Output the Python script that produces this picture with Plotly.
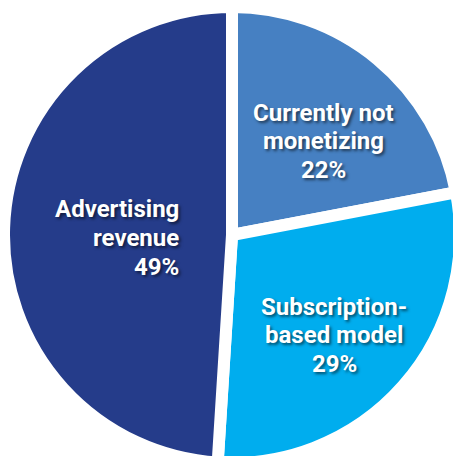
import plotly.graph_objects as go

# Share of respondents by monetization approach (percent)
categories = ["Currently not monetizing", "Subscription-based model", "Advertising revenue"]
label_lines = [["Currently not", "monetizing"], ["Subscription-", "based model"], ["Advertising", "revenue"]]
shares = [22, 29, 49]
slice_colors = ["#4680c2", "#00adee", "#253c8a"]

# Figure geometry (pixels): plot area is a 456px square whose centre sits at (232, 235)
W, H = 460, 463
ML, MT = 4, 7
PW, PH = W - ML, H - MT

def px_to_paper(x, y):
    return (x - ML) / PW, 1 - (y - MT) / PH

fig = go.Figure(go.Pie(
    labels=categories,
    values=shares,
    sort=False,
    direction="clockwise",
    rotation=0,
    marker=dict(colors=slice_colors, line=dict(color="white", width=12)),
    textinfo="none",
    hoverinfo="label+percent",
    showlegend=False,
))

# Label block anchors: (x, first baseline, alignment)
label_pos = [(323.5, 121.5, "center"), (334, 315, "center"), (181, 218, "right")]
line_step = 28.5
font = dict(family="Roboto, Liberation Sans, sans-serif",
            size=24, color="white", weight="bold",
            shadow="2px 2px 3px rgba(0,0,0,0.55)")

for lines, val, (x, y0, al) in zip(label_lines, shares, label_pos):
    texts = lines + [f"{val}%"]
    for i, t in enumerate(texts):
        base = y0 + i * line_step
        px, py = px_to_paper(x, base - 8.5)
        fig.add_annotation(
            x=px, y=py, xref="paper", yref="paper",
            text=t, showarrow=False, font=font,
            xanchor={"center": "center", "right": "right"}[al], yanchor="middle",
        )

fig.update_layout(
    width=W, height=H,
    margin=dict(l=ML, r=0, t=MT, b=0),
    paper_bgcolor="white",
    plot_bgcolor="white",
)

fig.write_html(
    "out.html",
    post_script="document.documentElement.style.overflow='hidden';document.body.style.overflow='hidden';document.body.style.margin='0';",
)
